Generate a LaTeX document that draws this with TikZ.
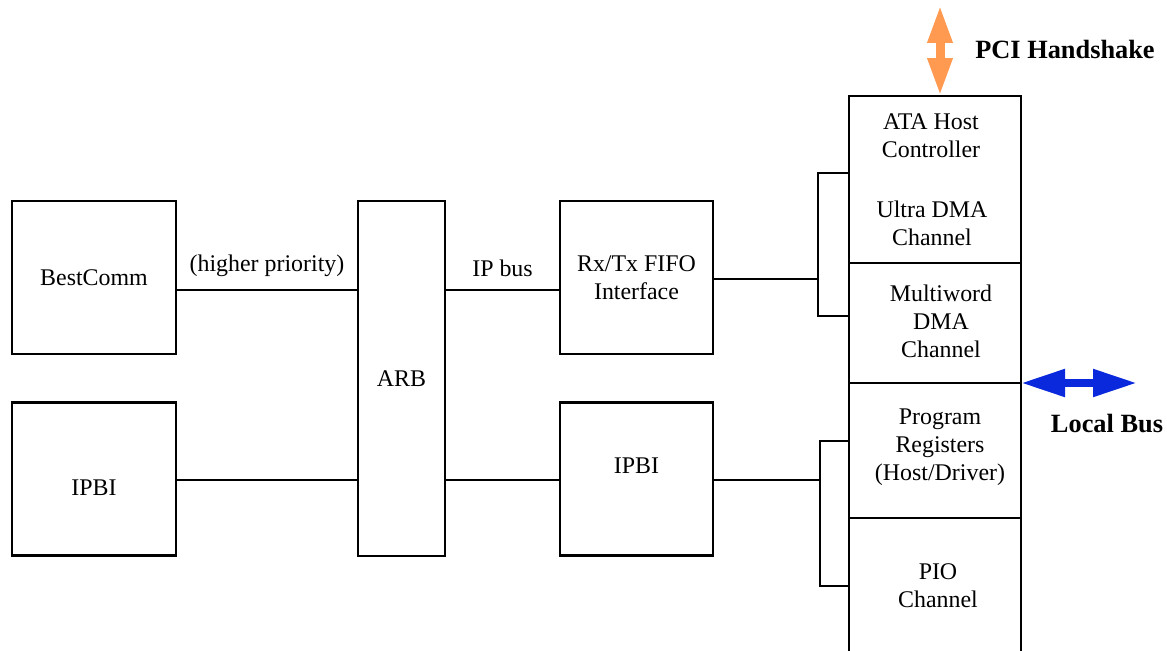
\documentclass[tikz,border=0pt]{standalone}
\usepackage{fontspec}
\setmainfont{Liberation Serif}
\usetikzlibrary{arrows.meta, positioning}
\definecolor{Ink}{HTML}{000000}
\definecolor{PciOrange}{HTML}{FF9A50}
\definecolor{BusBlue}{HTML}{0A28DC}

\begin{document}
\begin{tikzpicture}[x=0.02cm, y=-0.02cm,
  blk/.style={draw=Ink, line width=1.6pt, minimum width=3.06cm, minimum height=3.06cm, align=center, inner sep=0pt, font=\fontsize{13.6}{16}\selectfont},
  txt/.style={align=center, inner sep=1pt, font=\fontsize{13.6}{16}\selectfont},
  head/.style={inner sep=1pt, font=\fontsize{15}{18}\selectfont\bfseries},
  wire/.style={line width=1.4pt, color=Ink},
  frame/.style={line width=1.6pt, color=Ink},
  fat/.style={line width=#1}
]
\useasboundingbox (0,0) rectangle (1167,651);

% left side
\node[blk, minimum width=3.28cm] (best) at (94,277.5) {BestComm};
\node[blk, minimum width=3.28cm, below=0.92cm of best] (ipbiA) {\raisebox{-9pt}[0pt][0pt]{IPBI}};
\node[blk, minimum width=1.74cm, minimum height=7.1cm] (arb) at (401.5,378.5) {ARB};
\node[blk] (fifo) at (636.5,277.5) {Rx/Tx FIFO\\Interface};
\node[blk, below=0.92cm of fifo] (ipbiB) {\raisebox{3pt}[0pt][0pt]{IPBI}};

\draw[wire] (best.east |- 0,290) -- node[txt, midway, above=6pt] {(higher priority)} (arb.west |- 0,290);
\draw[wire] (arb.east |- 0,290) -- node[txt, midway, above=6pt] {IP bus} (fifo.west |- 0,290);
\draw[wire] (ipbiA.east |- 0,480) -- (arb.west |- 0,480);
\draw[wire] (arb.east |- 0,480) -- (ipbiB.west |- 0,480);

% ATA column
\coordinate (colNW) at (849,96);
\coordinate (colNE) at (1021,96);
\draw[frame] (849,651) -- (colNW) -- (colNE) -- (1021,651);
\foreach \y in {263,383,518}
  \draw[frame] (849,\y) -- (1021,\y);

\node[txt] (ata) at (931,136) {ATA Host\\Controller};
\node[txt] (udma) at (932,223) {Ultra DMA\\Channel};
\node[txt] (mdma) at (941,321) {Multiword\\DMA\\Channel};
\node[txt] (preg) at (940,447) {Program\\Registers\\(Host/Driver)};
\node[txt] (pio) at (938,586) {PIO\\Channel};

% brackets into the column
\coordinate (brU) at (818,279);
\coordinate (brL) at (820,480);
\draw[wire] (fifo.east |- brU) -- (brU);
\draw[wire] (849,173) -| (brU) |- (849,316);
\draw[wire] (ipbiB.east |- brL) -- (brL);
\draw[wire] (849,441) -| (brL) |- (849,586);

% handshake and bus arrows
\coordinate (pciEnd) at (940,5);
\coordinate (ataTop) at (940,96);
\draw[fat=0.18cm, PciOrange, {Triangle[length=0.76cm,width=0.46cm]}-{Triangle[length=0.76cm,width=0.46cm]}] (pciEnd) -- (ataTop);
\node[head] (pci) at (1065,49) {PCI Handshake};

\coordinate (busL) at (1021,383);
\coordinate (busR) at (1137,383);
\draw[fat=0.16cm, BusBlue, {Triangle[length=0.88cm,width=0.52cm]}-{Triangle[length=0.88cm,width=0.52cm]}] (busL) -- (busR);
\node[head] (bus) at (1107,424) {Local Bus};
\end{tikzpicture}
\end{document}
